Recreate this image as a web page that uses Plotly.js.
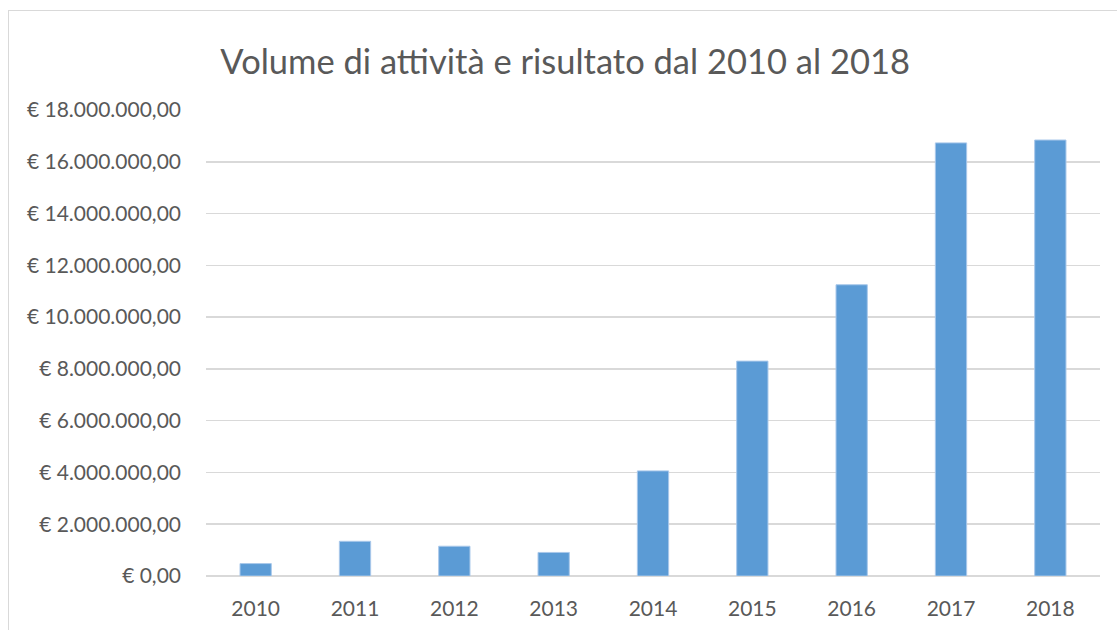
<!DOCTYPE html>
<html>
<head>
<meta charset="utf-8">
<script src="https://cdn.plot.ly/plotly-3.0.1.min.js"></script>
<style>
html,body{margin:0;padding:0;background:#fff;}
#wrap{position:relative;width:1117px;height:630px;overflow:hidden;}
#chart{width:1117px;height:630px;}
#frame{position:absolute;left:8px;top:10px;width:1200px;height:700px;border:1px solid #d9d9d9;pointer-events:none;}
</style>
</head>
<body>
<div id="wrap"><div id="chart"></div><div id="frame"></div></div>
<script>
var years = ['2010','2011','2012','2013','2014','2015','2016','2017','2018'];
var volumes = [480000, 1340000, 1150000, 910000, 4060000, 8300000, 11250000, 16730000, 16840000];
var tickValues = [0, 2000000, 4000000, 6000000, 8000000, 10000000, 12000000, 14000000, 16000000, 18000000];
var tickLabels = ['€ 0,00','€ 2.000.000,00','€ 4.000.000,00','€ 6.000.000,00','€ 8.000.000,00','€ 10.000.000,00','€ 12.000.000,00','€ 14.000.000,00','€ 16.000.000,00','€ 18.000.000,00'];
var chartTitle = 'Volume di attività e risultato dal 2010 al 2018';

var trace = {
  type: 'bar',
  x: years,
  y: volumes,
  marker: {color: '#5b9bd5', line: {color: '#a9c8ea', width: 1}},
  hoverinfo: 'x+y'
};

var layout = {
  width: 1117,
  height: 630,
  margin: {l: 206, r: 17, t: 110, b: 54},
  paper_bgcolor: '#ffffff',
  plot_bgcolor: '#ffffff',
  bargap: 0.685,
  showlegend: false,
  font: {family: 'Lato, "Open Sans", sans-serif', color: '#595959'},
  title: {
    text: chartTitle,
    font: {family: 'Lato, "Open Sans", sans-serif', size: 34.5, color: '#595959'},
    x: 0.506, xref: 'container', xanchor: 'center',
    y: 0.902, yref: 'container', yanchor: 'middle'
  },
  xaxis: {
    type: 'category',
    tickfont: {size: 21, color: '#595959'},
    showgrid: false,
    showline: false,
    zeroline: false,
    ticks: '',
    ticklen: 0,
    ticklabelstandoff: 18
  },
  yaxis: {
    range: [0, 18000000],
    tickmode: 'array',
    tickvals: tickValues,
    ticktext: tickLabels,
    tickfont: {size: 21, color: '#595959'},
    showgrid: true,
    gridcolor: '#d9d9d9',
    gridwidth: 1.5,
    zeroline: true,
    zerolinecolor: '#d9d9d9',
    zerolinewidth: 1.5,
    showline: false,
    ticks: '',
    ticklabelstandoff: 24
  }
};

Plotly.newPlot('chart', [trace], layout, {displayModeBar: false, staticPlot: true});
</script>
</body>
</html>
